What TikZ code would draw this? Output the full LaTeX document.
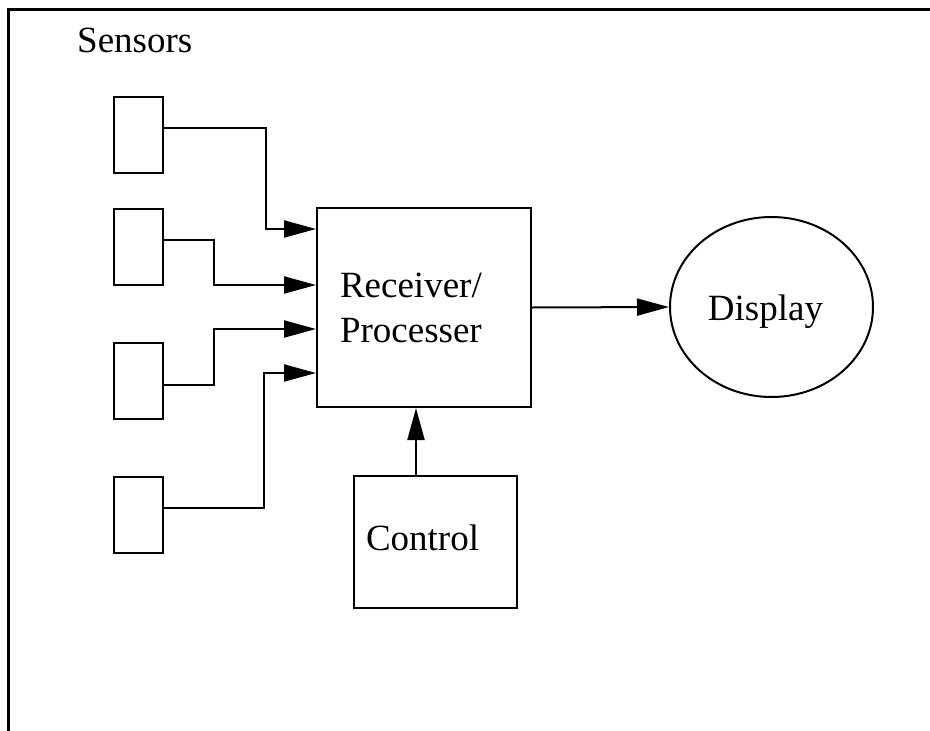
\documentclass[tikz,border=0pt]{standalone}
\usepackage{fontspec}
\setmainfont{Liberation Serif}
\usetikzlibrary{arrows.meta,shapes.geometric}
\tikzset{
  lbl/.style={font=\fontsize{37}{45}\selectfont},
  sensor/.style={draw, line width=2pt, minimum width=49pt, minimum height=76pt, inner sep=0pt},
  blk/.style={draw, line width=2pt, inner sep=0pt, lbl},
  arr/.style={line width=2pt, -{Triangle[length=32pt,width=17pt]}},
}
\begin{document}
\begin{tikzpicture}[x=1pt,y=-1pt]
\useasboundingbox (0,0) rectangle (930,731);
% frame
\draw[line width=3pt] (8.5,731) -- (8.5,9) -- (930,9);
% title
\node[lbl, anchor=base west, inner sep=0pt] (title) at (77,52) {Sensors};
% sensors
\node[sensor] (s1) at (138.5,135) {};
\node[sensor] (s2) at (138.5,246.5) {};
\node[sensor] (s3) at (138.5,380.5) {};
\node[sensor] (s4) at (138.5,514.5) {};
% receiver
\node[blk, minimum width=214pt, minimum height=199pt, text width=168pt, align=left, inner xsep=23pt] (rp) at (424,307.5) {Receiver/\\Processer};
% display
\node[draw, ellipse, line width=2pt, minimum width=203pt, minimum height=180pt, inner sep=0pt, lbl, text height=26pt, text depth=0pt] (disp) at (771.5,307) {\hspace{-12pt}Display};
% control
\node[blk, minimum width=163pt, minimum height=132pt, text width=139pt, align=left, inner xsep=12pt, text height=16pt, text depth=0pt] (ctrl) at (435.5,542) {Control};
% connector points
\coordinate (o1) at ([yshift=7pt]s1.east);
\coordinate (o2) at ([yshift=6.5pt]s2.east);
\coordinate (o3) at ([yshift=-4.5pt]s3.east);
\coordinate (o4) at ([yshift=6.5pt]s4.east);
\coordinate (i1) at ([yshift=78.5pt]rp.west);
\coordinate (i2) at ([yshift=22.5pt]rp.west);
\coordinate (i3) at ([yshift=-21.5pt]rp.west);
\coordinate (i4) at ([yshift=-65.5pt]rp.west);
\coordinate (b1) at (265.5,0);
\coordinate (b2) at (214,0);
\coordinate (b3) at (214,0);
\coordinate (b4) at (264,0);
\draw[arr] (o1) -- (o1 -| b1) |- (i1);
\draw[arr] (o2) -- (o2 -| b2) |- (i2);
\draw[arr] (o3) -- (o3 -| b3) |- (i3);
\draw[arr] (o4) -- (o4 -| b4) |- (i4);
% output
\draw[arr] (rp.east) -- (disp.west);
% control
\coordinate (c1) at ([xshift=-19.5pt]ctrl.north);
\draw[arr] (c1) -- (c1 |- rp.south);
\end{tikzpicture}
\end{document}
